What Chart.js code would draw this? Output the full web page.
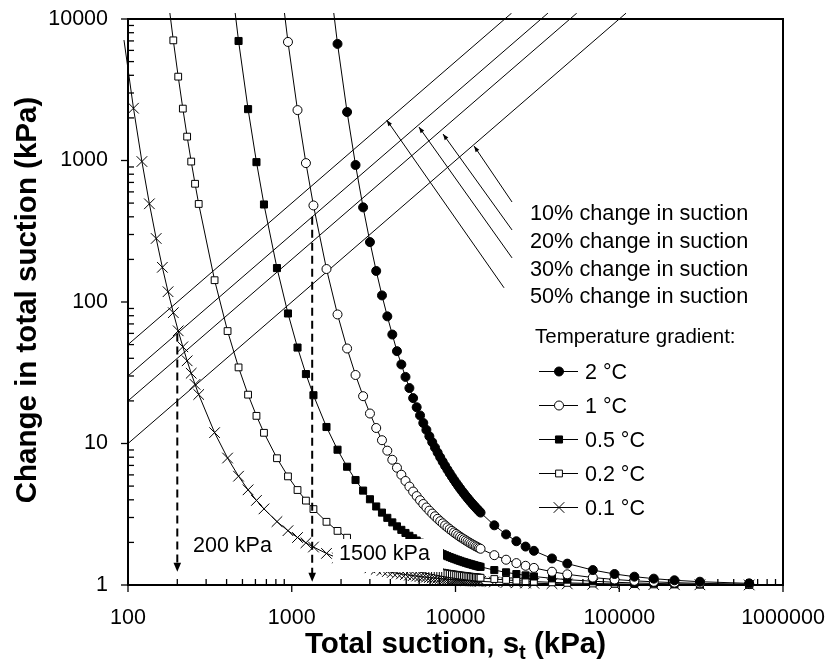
<!DOCTYPE html>
<html>
<head>
<meta charset="utf-8">
<script src="https://cdn.jsdelivr.net/npm/chart.js"></script>
<style>
html,body{margin:0;padding:0;background:#fff;}
canvas{display:block;}
</style>
</head>
<body>
<canvas id="c" width="830" height="668"></canvas>
<script>
// ---------------- DATA ----------------
// Total suction values of the plotted points (kPa), shared by all series
const suction = [94.5,108.0,121.6,135.1,148.6,162.1,175.6,189.1,202.6,216.2,229.7,243.2,256.7,270.3,
  337.9,405.6,473.3,541.1,608.9,676.7,812.4,948.3,1084.4,1220.6,1356.8,
  1629.8,1903.4,2177.4,2452.2,2727.4,3003.2,3279.6,3556.5,3833.9,4112.0,4390.6,4669.8,4949.6,5230.0,5511.0,
  5792.6,6074.7,6357.6,6640.7,6924.6,7209.0,7494.1,7779.9,8066.3,8353.1,8640.7,8928.9,9217.7,9507.1,9797.1,
  10087.7,10379.1,10670.9,10963.5,11256.6,11550.3,11844.8,12139.9,12435.7,12732.0,13029.0,13326.7,13625.0,13924.0,14223.7,
  17258,20361,23538,26791,30124,38837,48151,68962,93575,123699,162536,217274,310849,621698];

// Change in total suction (kPa) for each temperature gradient (null = not plotted)
const dS_2C = [null,null,null,null,null,null,null,null,null,null,null,null,null,null,
  null,null,null,null,null,null,null,null,null,null,null,
  29250,6669,2202,929.5,466.4,265.2,165.7,111.3,79.17,58.90,44.93,36.20,29.55,24.65,20.93,
  18.05,15.79,13.96,12.48,11.25,10.22,9.360,8.621,7.987,7.436,6.956,6.534,6.161,5.829,5.532,
  5.267,5.027,4.810,4.612,4.432,4.267,4.116,3.977,3.849,3.730,3.620,3.517,3.421,3.332,3.249,
  2.641,2.278,2.038,1.869,1.744,1.540,1.416,1.275,1.196,1.145,1.109,1.080,1.055,1.027];
const dS_1C = [null,null,null,null,null,null,null,null,null,null,null,null,null,null,
  null,null,null,null,null,null,30180,6884,2271,958.6,481.2,
  171.0,81.66,46.93,30.49,21.60,16.29,12.87,10.55,8.898,7.674,6.744,6.017,5.436,4.964,4.575,
  4.249,3.973,3.736,3.532,3.354,3.198,3.059,2.936,2.826,2.727,2.637,2.556,2.482,2.414,2.352,
  2.295,2.242,2.193,2.147,2.105,2.066,2.029,1.994,1.962,1.931,1.903,1.875,1.850,1.825,1.803,
  1.625,1.509,1.428,1.367,1.321,1.241,1.190,1.129,1.094,1.070,1.053,1.039,1.027,1.014];
const dS_05C = [null,null,null,null,null,null,null,null,null,null,null,null,null,null,
  null,30650,6992,2307,973.6,488.8,173.7,82.97,47.65,30.96,21.94,
  13.08,9.037,6.851,5.521,4.647,4.036,3.588,3.248,2.983,2.770,2.597,2.453,2.332,2.228,2.139,
  2.061,1.993,1.933,1.879,1.831,1.788,1.749,1.714,1.681,1.651,1.624,1.599,1.575,1.554,1.534,
  1.515,1.497,1.481,1.465,1.451,1.437,1.424,1.412,1.401,1.390,1.379,1.369,1.360,1.351,1.343,
  1.275,1.229,1.195,1.169,1.149,1.114,1.091,1.063,1.046,1.034,1.026,1.019,1.014,1.007];
const dS_02C = [null,null,null,null,null,null,13970,7066,3914,2326,1475,983.0,684.7,493.0,
  142.6,62.31,34.50,22.14,15.68,11.90,7.869,5.856,4.691,3.948,3.439,
  2.796,2.412,2.159,1.981,1.849,1.747,1.667,1.602,1.548,1.503,1.465,1.432,1.403,1.378,1.355,
  1.336,1.318,1.302,1.287,1.274,1.262,1.251,1.240,1.231,1.222,1.214,1.206,1.199,1.193,1.187,
  1.181,1.175,1.170,1.165,1.161,1.156,1.152,1.148,1.144,1.141,1.137,1.134,1.131,1.128,1.125,
  1.102,1.086,1.074,1.065,1.057,1.044,1.035,1.025,1.018,1.014,1.010,1.008,1.005,1.003];
const dS_01C = [7100,2342,983.3,494.2,281.2,175.9,118.2,84.06,62.56,48.23,38.40,31.37,26.17,22.20,
  11.94,7.894,5.874,4.705,3.960,3.450,2.805,2.420,2.166,1.987,1.855,
  1.672,1.553,1.469,1.407,1.360,1.322,1.291,1.266,1.244,1.226,1.210,1.197,1.185,1.174,1.164,
  1.156,1.148,1.141,1.135,1.129,1.123,1.118,1.114,1.110,1.106,1.102,1.098,1.095,1.092,1.089,
  1.087,1.084,1.082,1.079,1.077,1.075,1.073,1.072,1.070,1.068,1.066,1.065,1.063,1.062,1.061,
  1.050,1.042,1.036,1.032,1.028,1.022,1.018,1.012,1.009,1.007,1.005,1.004,1.003,1.001];

const seriesLabels = ['2 °C', '1 °C', '0.5 °C', '0.2 °C', '0.1 °C'];

// Reference lines: percentage change in suction
const percentLines = [10, 20, 30, 50];
const percentLabels = ['10% change in suction', '20% change in suction', '30% change in suction', '50% change in suction'];
const lineStartX = 100;
const lineEndY = 11000;

// Axis tick labels
const xTickLabels = [100, 1000, 10000, 100000, 1000000];
const yTickLabels = [1, 10, 100, 1000, 10000];

// Annotation arrows (data coordinates): tail -> head on each percent line
const arrowTailX = [22140, 22140, 22140, 19790];
const arrowTailY = [509, 323, 205, 126];
const arrowHeadX = [12980, 8390, 5980, 3800];
const arrowHeadY = [1266, 1539, 1725, 1933];

// Dashed vertical arrows (suction read at intersection with the 30 % line)
const dashX = [200, 1333];
const dashTopY = [60, 400];
const dashTipY = [1.24, 1.055];
const dashLabels = ['200 kPa', '1500 kPa'];

// ---------------- CHART ----------------
const FONT = '"Liberation Sans", Arial, Helvetica, sans-serif';
const isDecade = v => Math.abs(Math.log10(v) - Math.round(Math.log10(v))) < 1e-9;

const markerDefs = [
  {style: 'circle', r: 4.5, fill: '#000'},
  {style: 'circle', r: 4.5, fill: '#fff'},
  {style: 'rect', r: 5, fill: '#000'},
  {style: 'rect', r: 4.8, fill: '#fff'},
  {style: 'crossRot', r: 7.5, fill: '#fff'}
];
const seriesValues = [dS_2C, dS_1C, dS_05C, dS_02C, dS_01C];
const CLIP = {left: 5, top: 6, right: 8, bottom: 8};

function pts(values) {
  const out = [];
  suction.forEach((s, i) => { if (values[i] !== null) out.push({x: s, y: values[i]}); });
  return out;
}

const datasets = [];
seriesValues.forEach((vals, k) => {
  const m = markerDefs[k];
  datasets.push({
    label: seriesLabels[k],
    data: pts(vals),
    borderColor: '#000',
    borderWidth: 1,
    backgroundColor: m.fill,
    pointBackgroundColor: m.fill,
    pointBorderColor: '#000',
    pointBorderWidth: 1,
    pointStyle: m.style,
    pointRadius: ctx => (ctx.raw && (ctx.raw.x < 100 || ctx.raw.y > 10000)) ? 0 : m.r,
    pointHoverRadius: ctx => (ctx.raw && (ctx.raw.x < 100 || ctx.raw.y > 10000)) ? 0 : m.r,
    tension: 0,
    fill: false,
    clip: CLIP
  });
});
percentLines.forEach(p => {
  datasets.push({
    label: p + '%',
    data: [{x: lineStartX, y: lineStartX * p / 100}, {x: lineEndY * 100 / p, y: lineEndY}],
    borderColor: '#000',
    borderWidth: 1,
    pointRadius: 0,
    tension: 0,
    fill: false,
    clip: CLIP
  });
});

function drawMarker(ctx, m, x, y) {
  ctx.save();
  ctx.lineWidth = 1;
  ctx.strokeStyle = '#000';
  ctx.fillStyle = m.fill;
  ctx.beginPath();
  if (m.style === 'circle') {
    ctx.arc(x, y, m.r, 0, Math.PI * 2);
    ctx.fill(); ctx.stroke();
  } else if (m.style === 'rect') {
    const h = Math.SQRT1_2 * m.r;
    ctx.rect(x - h, y - h, 2 * h, 2 * h);
    ctx.fill(); ctx.stroke();
  } else {
    const o = Math.SQRT1_2 * m.r;
    ctx.moveTo(x - o, y - o); ctx.lineTo(x + o, y + o);
    ctx.moveTo(x + o, y - o); ctx.lineTo(x - o, y + o);
    ctx.stroke();
  }
  ctx.restore();
}

function arrowHead(ctx, fx, fy, tx, ty, len, half) {
  const ang = Math.atan2(ty - fy, tx - fx);
  ctx.beginPath();
  ctx.moveTo(tx, ty);
  ctx.lineTo(tx - len * Math.cos(ang) + half * Math.sin(ang), ty - len * Math.sin(ang) - half * Math.cos(ang));
  ctx.lineTo(tx - len * Math.cos(ang) - half * Math.sin(ang), ty - len * Math.sin(ang) + half * Math.cos(ang));
  ctx.closePath();
  ctx.fill();
}

function noPad(s) {
  s.paddingTop = 0; s.paddingBottom = 0; s.paddingLeft = 0; s.paddingRight = 0;
}

const deco = {
  id: 'deco',
  beforeDatasetsDraw(chart) {
    const {ctx, chartArea: a, scales: {x, y}} = chart;
    ctx.save();
    ctx.strokeStyle = '#000';
    ctx.lineWidth = 1.3;
    // x ticks: majors outward, minors inward
    for (let e = 2; e <= 6; e++) {
      for (let k = 1; k <= 9; k++) {
        const v = k * Math.pow(10, e);
        if (v > 1000000) break;
        const px = x.getPixelForValue(v);
        ctx.beginPath();
        if (k === 1) { ctx.moveTo(px, a.bottom); ctx.lineTo(px, a.bottom + 7); }
        else { ctx.moveTo(px, a.bottom); ctx.lineTo(px, a.bottom - 6); }
        ctx.stroke();
      }
    }
    for (let e = 0; e <= 4; e++) {
      for (let k = 1; k <= 9; k++) {
        const v = k * Math.pow(10, e);
        if (v > 10000) break;
        const py = y.getPixelForValue(v);
        ctx.beginPath();
        if (k === 1) { ctx.moveTo(a.left, py); ctx.lineTo(a.left - 7, py); }
        else { ctx.moveTo(a.left, py); ctx.lineTo(a.left + 6, py); }
        ctx.stroke();
      }
    }
    ctx.lineWidth = 2;
    ctx.strokeRect(a.left, a.top, a.right - a.left, a.bottom - a.top);
    ctx.restore();
  },
  afterDatasetsDraw(chart) {
    const {ctx, chartArea: a, scales: {x, y}} = chart;
    ctx.save();
    ctx.fillStyle = '#000';
    ctx.strokeStyle = '#000';
    // dashed vertical arrows
    dashX.forEach((v, i) => {
      const px = x.getPixelForValue(v);
      const top = y.getPixelForValue(dashTopY[i]);
      const tip = y.getPixelForValue(dashTipY[i]);
      ctx.lineWidth = 2;
      ctx.setLineDash([8, 5]);
      ctx.beginPath(); ctx.moveTo(px, top); ctx.lineTo(px, tip - 8); ctx.stroke();
      ctx.setLineDash([]);
      ctx.beginPath(); ctx.moveTo(px, tip); ctx.lineTo(px - 3.8, tip - 9); ctx.lineTo(px + 3.8, tip - 9); ctx.closePath(); ctx.fill();
    });
    // arrows from labels to percent lines
    ctx.lineWidth = 1;
    arrowTailX.forEach((v, i) => {
      const fx = x.getPixelForValue(v), fy = y.getPixelForValue(arrowTailY[i]);
      const tx = x.getPixelForValue(arrowHeadX[i]), ty = y.getPixelForValue(arrowHeadY[i]);
      ctx.beginPath(); ctx.moveTo(fx, fy); ctx.lineTo(tx, ty); ctx.stroke();
      arrowHead(ctx, fx, fy, tx, ty, 6, 2.2);
    });
    // white box behind the 1500 kPa label
    ctx.fillStyle = '#fff';
    ctx.fillRect(333, 539, 110, 33);
    ctx.fillStyle = '#000';
    ctx.font = '21.5px ' + FONT;
    ctx.textAlign = 'left';
    ctx.textBaseline = 'alphabetic';
    ctx.fillText(dashLabels[0], 193, 552);
    ctx.fillText(dashLabels[1], 339, 560);
    // percent labels
    ctx.font = '21.7px ' + FONT;
    percentLabels.forEach((t, i) => ctx.fillText(t, 530, 220 + i * 27.8));
    // legend
    ctx.font = '20.5px ' + FONT;
    ctx.fillText('Temperature gradient:', 535, 343);
    ctx.font = '21.5px ' + FONT;
    seriesLabels.forEach((t, i) => {
      const base = 378.5 + i * 34;
      const my = base - 7;
      ctx.lineWidth = 1;
      ctx.beginPath(); ctx.moveTo(539, my); ctx.lineTo(578, my); ctx.stroke();
      drawMarker(ctx, markerDefs[i], 559, my);
      ctx.fillStyle = '#000';
      ctx.fillText(t, 585, base);
    });
    // axis titles
    ctx.font = 'bold 29.5px ' + FONT;
    ctx.save();
    ctx.translate(36, 300);
    ctx.rotate(-Math.PI / 2);
    ctx.textAlign = 'center';
    ctx.fillText('Change in total suction (kPa)', 0, 0);
    ctx.restore();
    const p1 = 'Total suction, s', p3 = ' (kPa)';
    ctx.font = 'bold 29.5px ' + FONT;
    const w1 = ctx.measureText(p1).width, w3 = ctx.measureText(p3).width;
    ctx.font = 'bold 20px ' + FONT;
    const w2 = ctx.measureText('t').width;
    const total = w1 + w2 + w3;
    const cx = (a.left + a.right) / 2;
    const sx = cx - total / 2;
    const base = 653;
    ctx.textAlign = 'left';
    ctx.font = 'bold 29.5px ' + FONT;
    ctx.fillText(p1, sx, base);
    ctx.font = 'bold 20px ' + FONT;
    ctx.fillText('t', sx + w1, base + 6);
    ctx.font = 'bold 29.5px ' + FONT;
    ctx.fillText(p3, sx + w1 + w2, base);
    ctx.restore();
  }
};

new Chart(document.getElementById('c'), {
  type: 'line',
  data: {datasets},
  options: {
    responsive: false,
    devicePixelRatio: 1,
    animation: false,
    events: [],
    layout: {padding: {top: 19, right: 47, left: 0, bottom: 0}},
    plugins: {legend: {display: false}, tooltip: {enabled: false}},
    scales: {
      x: {
        type: 'logarithmic', min: 100, max: 1000000,
        grid: {display: false, drawTicks: false},
        border: {display: false},
        ticks: {
          autoSkip: false, maxRotation: 0, minRotation: 0, padding: 20, color: '#000',
          font: {size: 21.5, family: FONT},
          callback: v => (isDecade(v) && xTickLabels.includes(Math.round(v))) ? String(Math.round(v)) : ''
        },
        afterFit: s => { s.height = 83; noPad(s); }
      },
      y: {
        type: 'logarithmic', min: 1, max: 10000,
        grid: {display: false, drawTicks: false},
        border: {display: false},
        ticks: {
          autoSkip: false, padding: 20, color: '#000',
          font: {size: 21.5, family: FONT},
          callback: v => (isDecade(v) && yTickLabels.includes(Math.round(v))) ? String(Math.round(v)) : ''
        },
        afterFit: s => { s.width = 128; noPad(s); }
      }
    }
  },
  plugins: [deco]
});
</script>
</body>
</html>
